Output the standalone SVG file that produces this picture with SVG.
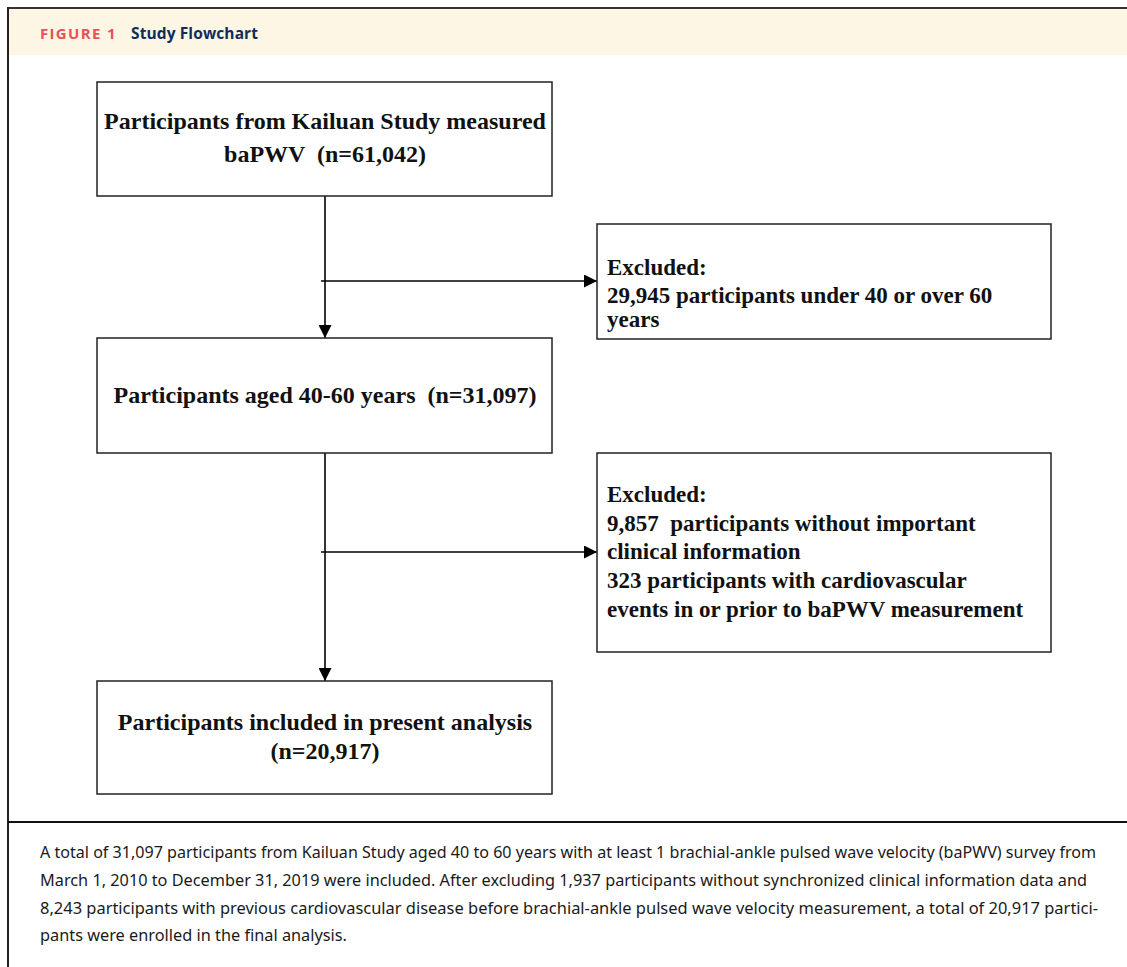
<svg xmlns="http://www.w3.org/2000/svg" width="1127" height="967" viewBox="0 0 1127 967">
<style>
.box{fill:#fff;stroke:#222;stroke-width:1.5}
.bt{font-family:"Liberation Serif","Times New Roman",serif;font-weight:bold;font-size:24px;fill:#111;white-space:pre}
.rt{font-family:"Liberation Serif","Times New Roman",serif;font-weight:bold;font-size:23px;fill:#111;white-space:pre}
.conn{stroke:#000;stroke-width:1.6;fill:none}
.cap{font-family:"Noto Sans","Open Sans",sans-serif;font-size:16.5px;fill:#1a1a1a}
</style>
<defs>
<marker id="ah" markerWidth="13" markerHeight="13" refX="13" refY="6.5" orient="auto" markerUnits="userSpaceOnUse">
<polygon points="0,0 13,6.5 0,13" fill="#000"/>
</marker>
</defs>
<rect x="0" y="0" width="1127" height="967" fill="#fff"/>
<g id="header">
<rect x="8" y="8" width="1119" height="47" fill="#fdf6e4"/>
<text x="40" y="39" font-family="'Open Sans','Noto Sans',sans-serif" font-weight="bold" font-size="15" letter-spacing="1.5" fill="#e8505b" textLength="77">FIGURE 1</text>
<text x="131" y="39" font-family="'Open Sans','Noto Sans',sans-serif" font-weight="bold" font-size="15.5" fill="#0e2d5c" textLength="127">Study Flowchart</text>
</g>
<g id="frame">
<line x1="8" y1="8" x2="1127" y2="8" stroke="#333" stroke-width="2"/>
<line x1="8" y1="7" x2="8" y2="967" stroke="#222" stroke-width="2"/>
<line x1="8" y1="822" x2="1127" y2="822" stroke="#111" stroke-width="2"/>
</g>
<g id="connectors">
<line class="conn" x1="325" y1="196" x2="325" y2="338" marker-end="url(#ah)"/>
<line class="conn" x1="321" y1="281" x2="597" y2="281" marker-end="url(#ah)"/>
<line class="conn" x1="325" y1="453" x2="325" y2="681" marker-end="url(#ah)"/>
<line class="conn" x1="321" y1="552" x2="597" y2="552" marker-end="url(#ah)"/>
</g>
<g id="node1">
<rect class="box" x="97" y="82" width="455" height="114"/>
<text class="bt" x="325" y="129" text-anchor="middle">Participants from Kailuan Study measured</text>
<text class="bt" x="325" y="162" text-anchor="middle">baPWV  (n=61,042)</text>
</g>
<g id="node2">
<rect class="box" x="97" y="338" width="455" height="115"/>
<text class="bt" x="325" y="403" text-anchor="middle">Participants aged 40-60 years  (n=31,097)</text>
</g>
<g id="node3">
<rect class="box" x="597" y="224" width="454" height="115"/>
<text class="rt" x="607" y="275">Excluded:</text>
<text class="rt" x="607" y="303">29,945 participants under 40 or over 60</text>
<text class="rt" x="607" y="327">years</text>
</g>
<g id="node4">
<rect class="box" x="597" y="453" width="454" height="199"/>
<text class="rt" x="607" y="502">Excluded:</text>
<text class="rt" x="607" y="531">9,857  participants without important</text>
<text class="rt" x="607" y="559">clinical information</text>
<text class="rt" x="607" y="588">323 participants with cardiovascular</text>
<text class="rt" x="607" y="617">events in or prior to baPWV measurement</text>
</g>
<g id="node5">
<rect class="box" x="97" y="681" width="455" height="113"/>
<text class="bt" x="325" y="730" text-anchor="middle">Participants included in present analysis</text>
<text class="bt" x="325" y="759" text-anchor="middle">(n=20,917)</text>
</g>
<g id="caption">
<text class="cap" x="40" y="858" textLength="1056" lengthAdjust="spacingAndGlyphs">A total of 31,097 participants from Kailuan Study aged 40 to 60 years with at least 1 brachial-ankle pulsed wave velocity (baPWV) survey from</text>
<text class="cap" x="40" y="886" textLength="1047" lengthAdjust="spacingAndGlyphs">March 1, 2010 to December 31, 2019 were included. After excluding 1,937 participants without synchronized clinical information data and</text>
<text class="cap" x="40" y="914" textLength="1058" lengthAdjust="spacingAndGlyphs">8,243 participants with previous cardiovascular disease before brachial-ankle pulsed wave velocity measurement, a total of 20,917 partici-</text>
<text class="cap" x="40" y="941" textLength="307" lengthAdjust="spacingAndGlyphs">pants were enrolled in the final analysis.</text>
</g>
</svg>
